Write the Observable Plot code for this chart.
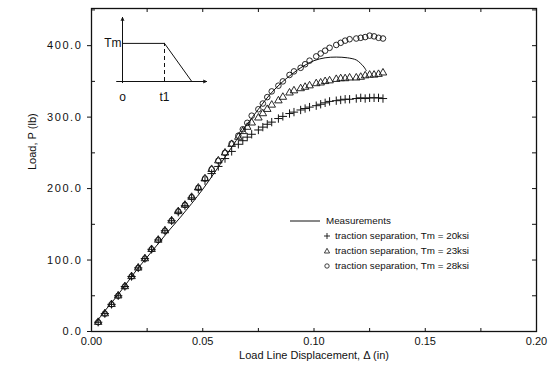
<!DOCTYPE html>
<html>
<head>
<meta charset="utf-8">
<script src="https://cdn.jsdelivr.net/npm/d3@7"></script>
<script src="https://cdn.jsdelivr.net/npm/@observablehq/plot@0.6"></script>
<style>
  body { margin: 0; background: white; }
  #wrap { position: relative; width: 548px; height: 366px; font-family: "Liberation Sans", Arial, sans-serif; }
  #inset { position: absolute; left: 100px; top: 0px; }
  #legend { position: absolute; left: 288px; top: 213px; font-size: 9.8px; color: #111; }
  #legend .row { display: flex; align-items: center; height: 15px; }
  #legend svg { display: block; }
  g[aria-label="y-axis tick label"] text { letter-spacing: 1.6px; }
</style>
</head>
<body>
<div id="wrap"><div id="chart"></div><div id="inset"></div><div id="legend"></div></div>
<script>
// ---- data ----
const xDisp = [0.003,0.006,0.009,0.012,0.015,0.018,0.021,0.024,0.027,0.030,0.033,0.036,0.039,0.042,0.045,0.048,0.051,0.054,0.057,0.060,0.063,0.066,
  0.068,0.070,0.072,0.075,0.077,0.079,0.081,0.084,0.086,0.089,
  0.091,0.094,0.096,0.098,0.101,0.103,0.105,0.107,0.110,0.112,
  0.114,0.116,0.119,0.121,0.123,0.125,0.127,0.129,0.131];
const loadTm28 = [13,25,38,50,63,77,89,102,115,128,141,155,168,177,188,201,214,227,239,250,263,274,
  283,292,302,311,319,328,336,344,350,359,
  364,369,374,379,385,389,393,397,401,404,
  407,409,410,411,412,414,413,411,410];
const loadTm23 = [13,25,38,50,63,77,89,102,115,128,141,155,168,177,188,201,214,227,239,250,262,272,
  280,286,292,299,305,311,317,323,328,334,
  337,340,342,344,347,348,350,351,353,354,
  354,355,355,356,358,359,359,360,362];
const loadTm20 = [13,25,38,50,63,77,89,102,115,128,141,155,167,176,187,199,211,221,231,242,252,262,
  267,272,276,282,286,290,293,298,301,305,
  307,310,312,314,316,318,320,322,323,324,
  325,325,326,327,326,327,327,327,326];
const measX = [0.002,0.005,0.010,0.015,0.020,0.025,0.030,0.035,0.040,0.045,0.050,0.055,0.060,0.065,0.070,0.075,0.080,0.085,0.090,0.095,0.100,0.105,0.110,0.115,0.119,0.121,0.1225,0.1235];
const measLoad = [12,25,44,64,85,104,123,142,160,179,199,221,244,267,290,311,331,347,360,371,379,383,384,383,380,375,370,365];
const xMajor = [0, 0.05, 0.10, 0.15, 0.20];
const xMinor = [0.025, 0.05, 0.075, 0.10, 0.125, 0.15, 0.175];
const yMajor = [0, 100, 200, 300, 400];
const yMinorLeft = [50, 150, 250, 350, 450];
const yTicksRight = [50, 100, 150, 200, 250, 300, 350, 400, 450];
const legendLabels = ["Measurements", "traction separation, Tm = 20ksi", "traction separation, Tm = 23ksi", "traction separation, Tm = 28ksi"];
// inset schematic (traction vs separation)
const insetT = [0, 1, 1.65];
const insetTraction = [1, 1, 0];
const insetLabels = {peak: "Tm", origin: "o", t1: "t1"};

const W = 548, H = 366, mL = 91, mR = 12, mT = 8, mB = 35;
const plotW = W - mL - mR, plotH = H - mT - mB;

const pts = (ys) => xDisp.map((x, i) => ({x, y: ys[i]}));
const meas = measX.map((x, i) => ({x, y: measLoad[i]}));

const chart = Plot.plot({
  width: W, height: H,
  marginLeft: mL, marginRight: mR, marginTop: mT, marginBottom: mB,
  style: {fontFamily: '"Liberation Sans", Arial, sans-serif', fontSize: "11px", color: "#111", background: "transparent"},
  x: {domain: [0, 0.2]},
  y: {domain: [0, 452]},
  marks: [
    Plot.axisY({ticks: yMajor, tickSize: 4, tickPadding: 5, tickFormat: d3.format(".1f"), label: null}),
    Plot.axisX({ticks: xMajor, tickSize: 0, tickPadding: 6, tickFormat: d3.format(".2f"), label: null}),
    Plot.tickY(yMinorLeft, {y: d => d, insetRight: plotW - 4, stroke: "#111"}),
    Plot.tickY(yTicksRight, {y: d => d, insetLeft: plotW - 4, stroke: "#111"}),
    Plot.tickX(xMinor, {x: d => d, insetTop: plotH - 3, stroke: "#111"}),
    Plot.tickX(xMinor, {x: d => d, insetBottom: plotH - 4, stroke: "#111"}),
    Plot.frame({stroke: "#111", strokeWidth: 1.3}),
    Plot.line(meas, {x: "x", y: "y", curve: "catmull-rom", stroke: "#111", strokeWidth: 1}),
    Plot.dot(pts(loadTm20), {x: "x", y: "y", symbol: "plus", r: 2.8, stroke: "#111", strokeWidth: 1}),
    Plot.dot(pts(loadTm23), {x: "x", y: "y", symbol: "triangle", r: 2.8, fill: "none", stroke: "#111", strokeWidth: 0.9}),
    Plot.dot(pts(loadTm28), {x: "x", y: "y", symbol: "circle", r: 2.8, fill: "none", stroke: "#111", strokeWidth: 0.9}),
    Plot.text(["Load Line Displacement, \u0394 (in)"], {text: d => d, frameAnchor: "bottom", dy: 27, fontSize: 11, fill: "#111"}),
    Plot.text(["Load, P (lb)"], {text: d => d, frameAnchor: "left", dx: -59, rotate: -90, fontSize: 11, fill: "#111"})
  ]
});
document.getElementById("chart").appendChild(chart);

const inset = Plot.plot({
  width: 120, height: 110,
  marginLeft: 22, marginRight: 14, marginTop: 17, marginBottom: 29,
  style: {fontFamily: '"Liberation Sans", Arial, sans-serif', fontSize: "12px", color: "#111", background: "transparent"},
  x: {domain: [0, 2], axis: null},
  y: {domain: [0, 1.68], axis: null},
  marks: [
    Plot.arrow([{x1: -0.14, y1: 0, x2: 2, y2: 0}, {x1: 0, y1: -0.03, x2: 0, y2: 1.68}],
      {x1: "x1", y1: "y1", x2: "x2", y2: "y2", headLength: 5, headAngle: 45, stroke: "#111", strokeWidth: 1}),
    Plot.line(insetT.map((t, i) => ({t, v: insetTraction[i]})), {x: "t", y: "v", stroke: "#111", strokeWidth: 1}),
    Plot.ruleX([insetT[1]], {y1: 0, y2: insetTraction[1], stroke: "#111", strokeDasharray: "4,3"}),
    Plot.text([insetLabels.peak], {text: d => d, x: 0, y: insetTraction[0], textAnchor: "end", dx: -1, fill: "#111"}),
    Plot.text([insetLabels.origin], {text: d => d, x: 0, y: 0, dy: 16, fill: "#111"}),
    Plot.text([insetLabels.t1], {text: d => d, x: insetT[1], y: 0, dy: 16, fill: "#111"})
  ]
});
document.getElementById("inset").appendChild(inset);

// legend
const sym = {
  line: '<line x1="2" y1="6" x2="32" y2="6" stroke="#111" stroke-width="1"/>',
  plus: '<path d="M36,6h6M39,3v6" stroke="#111" stroke-width="0.9"/>',
  tri: '<path d="M39,3.3L41.6,8L36.4,8Z" fill="none" stroke="#111" stroke-width="0.8"/>',
  circ: '<circle cx="39" cy="6" r="2.2" fill="none" stroke="#111" stroke-width="0.8"/>'
};
const legendSyms = [sym.line, sym.plus, sym.tri, sym.circ];
const legendX = [38, 47, 47, 47];
document.getElementById("legend").innerHTML = legendLabels.map((lab, i) =>
  `<div class="row"><svg width="${legendX[i]}" height="12">${legendSyms[i]}</svg><span>${lab}</span></div>`).join("");
</script>
</body>
</html>
